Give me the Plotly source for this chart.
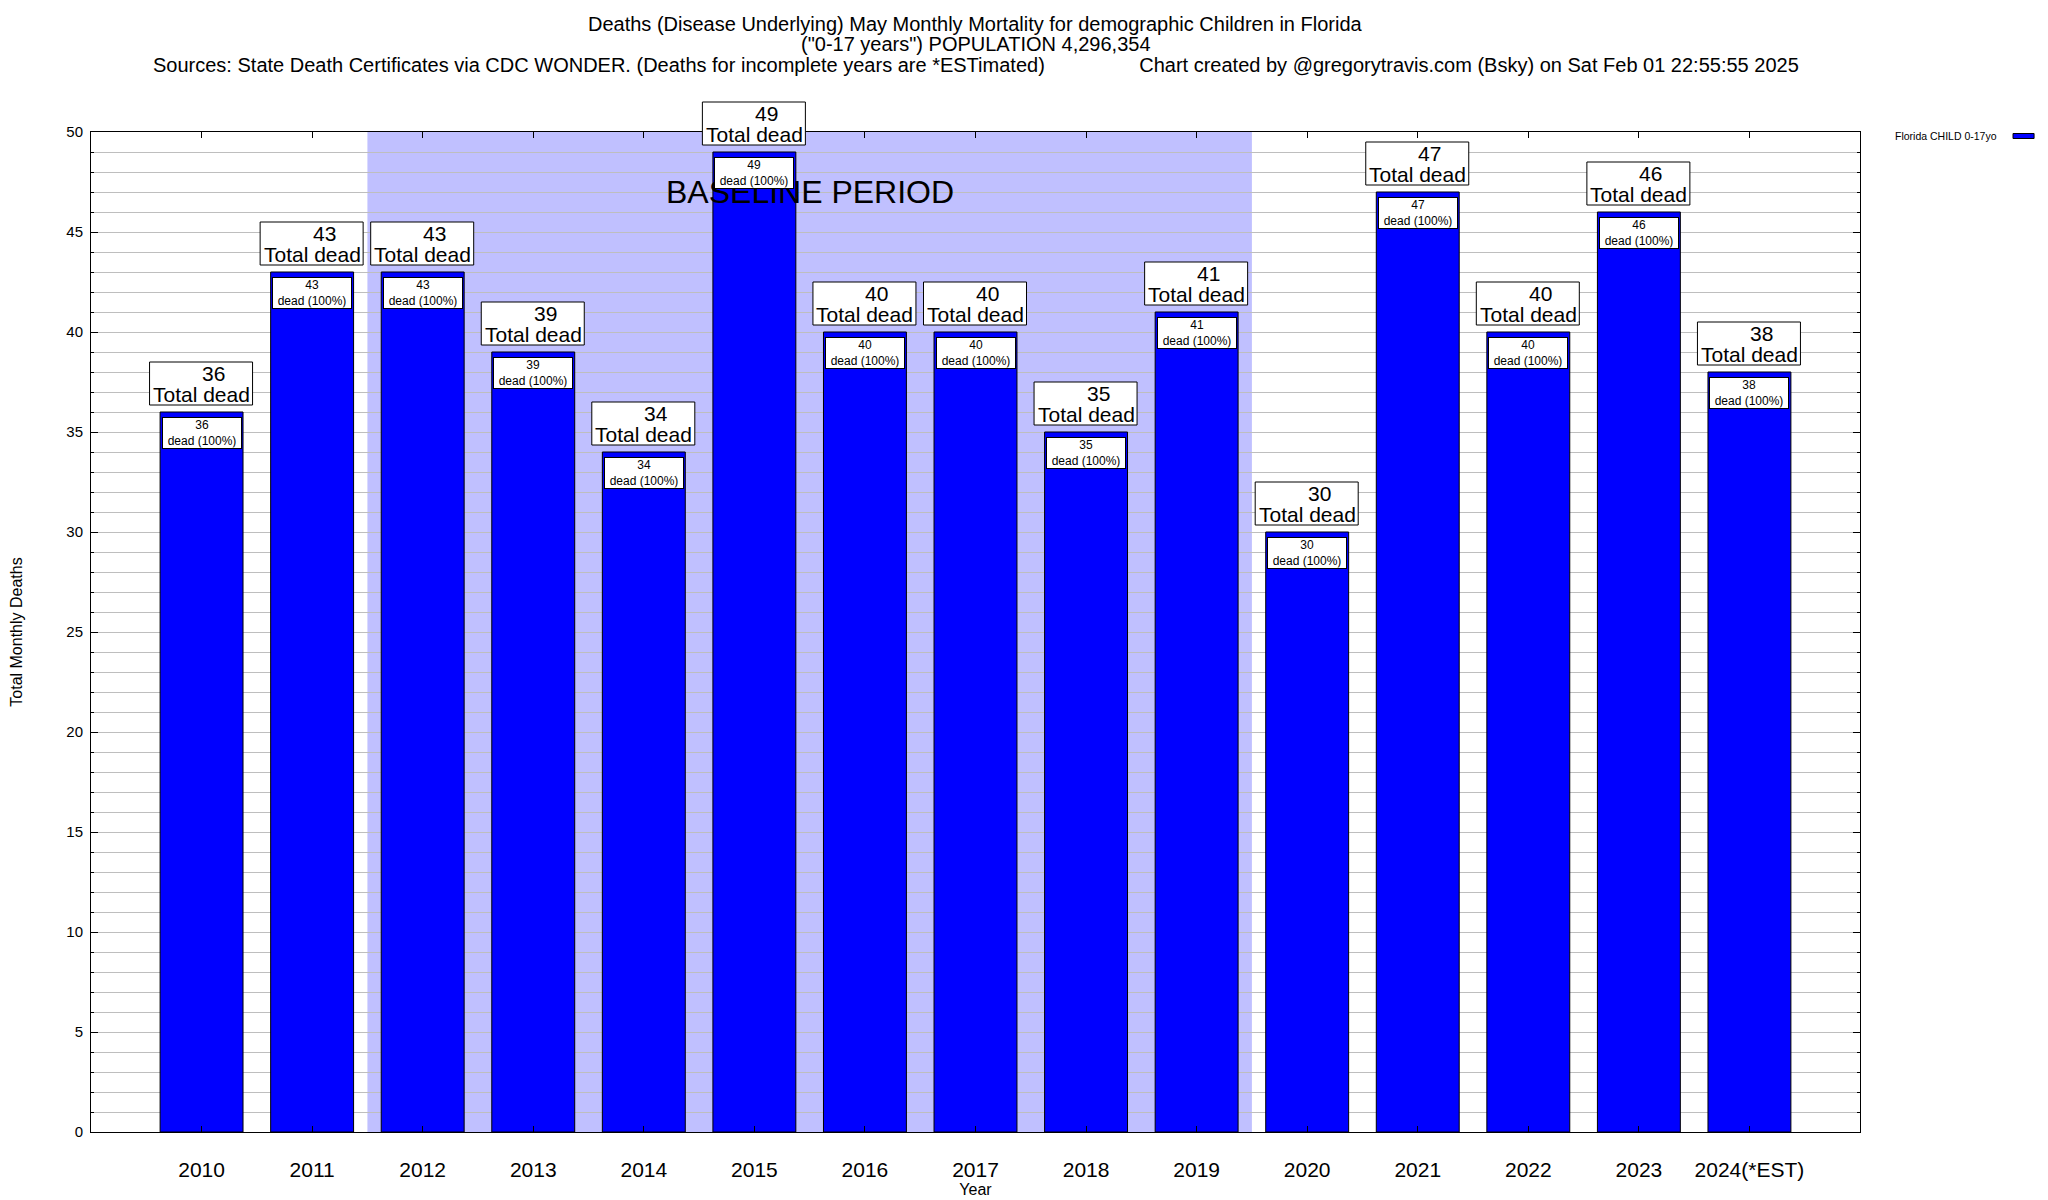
import plotly.graph_objects as go

# ---------------- data ----------------
years = ["2010", "2011", "2012", "2013", "2014", "2015", "2016", "2017",
         "2018", "2019", "2020", "2021", "2022", "2023", "2024(*EST)"]
deaths = [36, 43, 43, 39, 34, 49, 40, 40, 35, 41, 30, 47, 40, 46, 38]
pct_dead = [100] * len(years)
series_name = "Florida CHILD 0-17yo"
baseline_start = "2012"
baseline_end = "2019"
y_ticks = [0, 5, 10, 15, 20, 25, 30, 35, 40, 45, 50]

title_lines = [
    "Deaths (Disease Underlying) May Monthly Mortality for demographic Children in Florida",
    "(\"0-17 years\") POPULATION 4,296,354",
    "Sources: State Death Certificates via CDC WONDER. (Deaths for incomplete years are *ESTimated)"
    + "\u00a0" * 17
    + "Chart created by @gregorytravis.com (Bsky) on Sat Feb 01 22:55:55 2025",
]

FONT = "Liberation Sans, Arial, Helvetica, sans-serif"
BLUE = "#0000FF"
SHADE = "#C0C0FF"
GRID = "#BEBEBE"

# page has an 8px body margin; figure sized so the plot area lands where the reference has it
W, H = 2040, 1192
ML, MR, MT, MB = 83, 188, 124, 68
PLOT_H = H - MT - MB
Y_MIN, Y_MAX = y_ticks[0], y_ticks[-1]


def py_to_paper(py):
    """figure pixel y (from top) -> paper y"""
    return (H - MB - py) / PLOT_H


def val_to_paper(v):
    return (v - Y_MIN) / (Y_MAX - Y_MIN)


fig = go.Figure()
fig.add_trace(go.Bar(
    x=years, y=deaths, name=series_name,
    marker=dict(color=BLUE, line=dict(color="black", width=1)),
    showlegend=False,
))

# baseline shading
i0 = years.index(baseline_start) - 0.5
i1 = years.index(baseline_end) + 0.5
fig.add_shape(type="rect", xref="x", yref="paper", x0=i0, x1=i1, y0=0, y1=1,
              fillcolor=SHADE, line=dict(width=0), layer="below")
fig.add_annotation(x=(i0 + i1) / 2, y=47.0, xref="x", yref="y",
                   text="BASELINE PERIOD", showarrow=False,
                   font=dict(family=FONT, size=32, color="black"))

# labels on bars (x given as category index)
for i, (v, p) in enumerate(zip(deaths, pct_dead)):
    # outer "N / Total dead" box above the bar (paper y so it is not clipped at the top)
    fig.add_shape(type="rect", xref="x", yref="paper",
                  xsizemode="pixel", xanchor=i, x0=-52, x1=51,
                  ysizemode="pixel", yanchor=val_to_paper(v), y0=7, y1=50,
                  fillcolor="white", line=dict(color="black", width=1), layer="above")
    fig.add_annotation(x=i, y=v, xref="x", yref="y", yanchor="middle",
                       yshift=39, xshift=12, text=f"{v}", showarrow=False,
                       font=dict(family=FONT, size=21, color="black"))
    fig.add_annotation(x=i, y=v, xref="x", yref="y", yanchor="middle",
                       yshift=18, text="Total dead", showarrow=False,
                       font=dict(family=FONT, size=21, color="black"))
    # inner box at the top of the bar
    fig.add_annotation(x=i, y=v, xref="x", yref="y", yanchor="top", yshift=-5,
                       text=f"{v}<br>dead ({p}%)", showarrow=False, width=78,
                       font=dict(family=FONT, size=12, color="black"),
                       bgcolor="white", bordercolor="black", borderwidth=1, borderpad=0)

# title lines (tight gnuplot-like spacing)
for line, py in zip(title_lines, [16, 36, 57]):
    fig.add_annotation(x=0.5, y=py_to_paper(py), xref="paper", yref="paper",
                       xanchor="center", yanchor="middle", text=line, showarrow=False,
                       font=dict(family=FONT, size=20, color="black"))

# fake legend (text then swatch, gnuplot style)
fig.add_annotation(x=1.0187, y=0.996, xref="paper", yref="paper", xanchor="left",
                   yanchor="middle", text=series_name, showarrow=False,
                   font=dict(family=FONT, size=10.5, color="black"))
fig.add_shape(type="rect", xref="paper", yref="paper", x0=1.0865, x1=1.0984,
              y0=0.9935, y1=0.9985, fillcolor=BLUE, line=dict(color="black", width=1))

fig.update_layout(
    width=W, height=H,
    paper_bgcolor="white", plot_bgcolor="white",
    margin=dict(l=ML, r=MR, t=MT, b=MB, pad=0),
    bargap=0.25,
    font=dict(family=FONT, color="black"),
    xaxis=dict(
        range=[-1, len(years)], type="category", automargin=False,
        showline=True, linecolor="black", linewidth=1, mirror="ticks",
        ticks="inside", ticklen=6, tickcolor="black", showgrid=False,
        tickfont=dict(family=FONT, size=21, color="black"),
        ticklabelstandoff=19,
        title=dict(text="Year", font=dict(family=FONT, size=16, color="black"), standoff=0),
    ),
    yaxis=dict(
        range=[Y_MIN, Y_MAX], tickvals=y_ticks, automargin=False,
        showline=True, linecolor="black", linewidth=1, mirror="ticks",
        ticks="inside", ticklen=7, tickcolor="black",
        showgrid=True, gridcolor=GRID, gridwidth=1,
        tickfont=dict(family=FONT, size=15, color="black"),
        ticklabelstandoff=4,
        zeroline=False,
        minor=dict(dtick=1, ticks="inside", ticklen=3, tickcolor="black",
                   showgrid=True, gridcolor=GRID, gridwidth=1),
        title=dict(text="Total Monthly Deaths", font=dict(family=FONT, size=16, color="black"),
                   standoff=42),
    ),
)

fig.write_html("out.html")
